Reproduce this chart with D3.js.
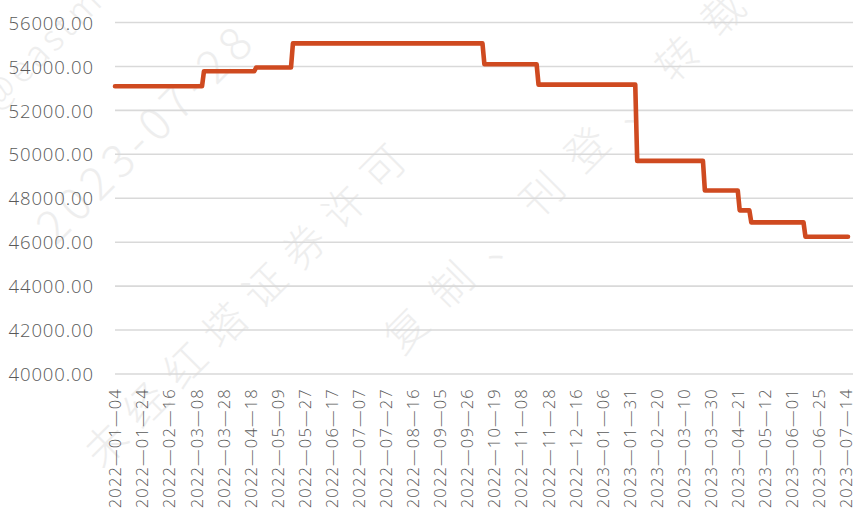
<!DOCTYPE html>
<html>
<head>
<meta charset="utf-8">
<script src="https://cdn.jsdelivr.net/npm/d3@7"></script>
<style>
  body { margin: 0; background: #fff; }
  svg { display: block; }
</style>
</head>
<body>
<svg id="chart" width="853" height="512"></svg>
<script>
// Price level held for each run of trading days, and how many days each level lasted
const levelValues = [53100, 53780, 53950, 55050, 54100, 53170, 49700, 48350, 47450, 46900, 46250];
const levelRuns   = [46, 27, 19, 99, 28, 51, 35, 18, 6, 28, 23];

// Category labels shown on the x axis (one every 14 trading days)
const tickLabels = [
  "2022—01—04", "2022—01—24", "2022—02—16", "2022—03—08", "2022—03—28",
  "2022—04—18", "2022—05—09", "2022—05—27", "2022—06—17", "2022—07—07",
  "2022—07—27", "2022—08—16", "2022—09—05", "2022—09—26", "2022—10—19",
  "2022—11—08", "2022—11—28", "2022—12—16", "2023—01—06", "2023—01—31",
  "2023—02—20", "2023—03—10", "2023—03—30", "2023—04—21", "2023—05—12",
  "2023—06—01", "2023—06—25", "2023—07—14"
];
const tickStep = 14;

// Value axis ticks
const yTicks = [40000, 42000, 44000, 46000, 48000, 50000, 52000, 54000, 56000];

// Watermark lines
const watermarkTexts = ["@eastmoney", "2023-07-28", "未经红塔证券许可", "复制、刊登、转载"];

// Expand the runs into one point per trading day
const series = [];
levelValues.forEach((v, i) => {
  for (let k = 0; k < levelRuns[i]; k++) series.push({ i: series.length, v });
});

const svg = d3.select("#chart");
const left = 115, right = 848, gridRight = 853;
const axisFont = "'Open Sans', 'Noto Sans', 'Liberation Sans', sans-serif";

const x = d3.scaleLinear().domain([0, series.length - 1]).range([left, right]);
const y = d3.scaleLinear().domain([40000, 56000]).range([374, 22.5]);

// Faint diagonal watermark
const wm = svg.append("g").attr("fill", "#eeeeee")
  .attr("font-family", "'Noto Sans CJK SC', 'Noto Sans', sans-serif")
  .attr("font-weight", 300);
const wmPlace = [
  { t: 0, x: -4, y: 112, size: 36, ls: 4 },
  { t: 1, x: 56, y: 246, size: 46, ls: 6 },
  { t: 2, x: 102, y: 470, size: 42, ls: 14 },
  { t: 3, x: 402, y: 356, size: 42, ls: 22 }
];
wmPlace.forEach(p => {
  wm.append("text")
    .attr("transform", `translate(${p.x},${p.y}) rotate(-45)`)
    .attr("font-size", p.size)
    .attr("letter-spacing", p.ls)
    .text(watermarkTexts[p.t]);
});

// Horizontal gridlines
svg.append("g")
  .selectAll("line")
  .data(yTicks)
  .join("line")
  .attr("x1", left).attr("x2", gridRight)
  .attr("y1", d => y(d)).attr("y2", d => y(d))
  .attr("stroke", "#d9d9d9")
  .attr("stroke-width", 1.6);

// Y axis labels
const yAxis = d3.axisLeft(y).tickValues(yTicks).tickFormat(d3.format(".2f")).tickSize(0).tickPadding(0);
const gy = svg.append("g").attr("transform", "translate(94,0)").call(yAxis);
gy.select(".domain").remove();
gy.selectAll("text")
  .attr("fill", "#595959")
  .attr("font-size", 18.5)
  .attr("font-weight", 300)
  .attr("letter-spacing", 0.9)
  .attr("font-family", axisFont)
  .attr("dy", "0.36em");

// X axis category labels, rotated
const tickIdx = tickLabels.map((_, k) => k * tickStep);
const xAxis = d3.axisBottom(x).tickValues(tickIdx)
  .tickFormat((d, k) => tickLabels[k]).tickSize(0).tickPadding(0);
const gx = svg.append("g").attr("transform", "translate(0,388)").call(xAxis);
gx.select(".domain").remove();
gx.selectAll("text")
  .attr("fill", "#595959")
  .attr("font-size", 16.5)
  .attr("font-weight", 300)
  .attr("letter-spacing", 1.2)
  .attr("font-family", axisFont)
  .attr("text-anchor", "end")
  .attr("transform", "rotate(-90)")
  .attr("x", 0)
  .attr("y", 0)
  .attr("dy", "0.35em");

// Price line
const line = d3.line().x(d => x(d.i)).y(d => y(d.v));
svg.append("path")
  .datum(series)
  .attr("d", line)
  .attr("fill", "none")
  .attr("stroke", "#cf4a20")
  .attr("stroke-width", 4.6)
  .attr("stroke-linejoin", "round")
  .attr("stroke-linecap", "round");
</script>
</body>
</html>
